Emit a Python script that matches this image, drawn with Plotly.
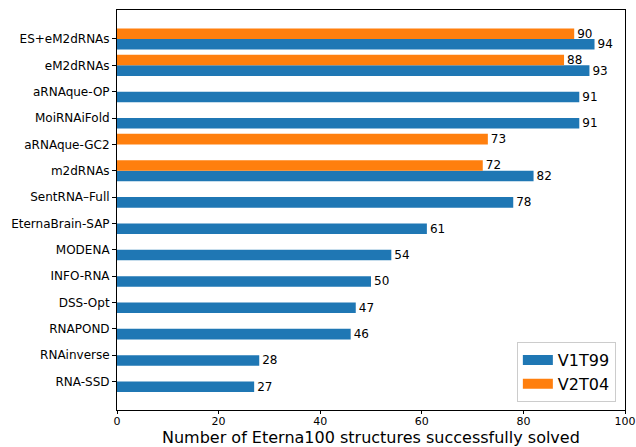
import plotly.graph_objects as go

methods = ["ES+eM2dRNAs", "eM2dRNAs", "aRNAque-OP", "MoiRNAiFold", "aRNAque-GC2",
           "m2dRNAs", "SentRNA\u2013Full", "EternaBrain-SAP", "MODENA", "INFO-RNA",
           "DSS-Opt", "RNAPOND", "RNAinverse", "RNA-SSD"]
v1t99 = [94, 93, 91, 91, None, 82, 78, 61, 54, 50, 47, 46, 28, 27]
v2t04 = [90, 88, None, None, 73, 72, None, None, None, None, None, None, None, None]
series_names = ["V1T99", "V2T04"]
x_ticks = [0, 20, 40, 60, 80, 100]
x_title = "Number of Eterna100 structures successfully solved"

# bottom-to-top order for the categorical axis
cats = methods[::-1]
v1 = v1t99[::-1]
v2 = v2t04[::-1]

BLUE = "#1f77b4"
ORANGE = "#ff7f0e"
FONT = "DejaVu Sans"

def labels(vals):
    return [("" if v is None else str(v)) for v in vals]

fig = go.Figure()
for name, vals, col in [(series_names[0], v1, BLUE), (series_names[1], v2, ORANGE)]:
    fig.add_trace(go.Bar(y=cats, x=vals, orientation="h", name=name, marker_color=col,
                         marker_line_width=0, text=labels(vals), textposition="outside",
                         constraintext="none", showlegend=False,
                         textfont=dict(size=12, color="black", family=FONT), cliponaxis=False))
# legend entries drawn as wide patches (matplotlib style)
for name, col in [(series_names[0], BLUE), (series_names[1], ORANGE)]:
    fig.add_trace(go.Scatter(x=[None], y=[None], mode="lines", name=name,
                             line=dict(color=col, width=12), showlegend=True))

fig.update_layout(
    width=636, height=447,
    margin=dict(l=117, r=11, t=10, b=37, autoexpand=False),
    barmode="group", bargap=0.2, bargroupgap=0,
    plot_bgcolor="white", paper_bgcolor="white",
    font=dict(family=FONT, size=12, color="black"),
    legend=dict(x=0.982, y=0.02, xanchor="right", yanchor="bottom",
                bordercolor="#cccccc", borderwidth=1, bgcolor="rgba(255,255,255,0.8)",
                font=dict(size=16, family=FONT), traceorder="normal",
                itemwidth=30, tracegroupgap=0),
    xaxis=dict(range=[0, 100], tickvals=x_ticks, automargin=False,
               ticklabeloverflow="allow", ticklabelstandoff=-2,
               showgrid=False, zeroline=False, showline=True, linecolor="black",
               linewidth=1, mirror=True, ticks="outside", ticklen=3, tickcolor="black",
               tickfont=dict(size=11, family=FONT)),
    yaxis=dict(type="category", categoryorder="array", categoryarray=cats, automargin=False,
               range=[-1.08, 14.1], showgrid=False, zeroline=False, showline=True,
               linecolor="black", linewidth=1, mirror=True, ticks="outside", ticklen=4,
               tickcolor="black", tickfont=dict(size=12, family=FONT)),
    annotations=[dict(text=x_title, xref="paper", yref="paper", x=0.5, y=-0.0697,
                      xanchor="center", yanchor="middle", showarrow=False,
                      font=dict(size=16, family=FONT, color="black"))],
)

fig.write_html("out.html")
